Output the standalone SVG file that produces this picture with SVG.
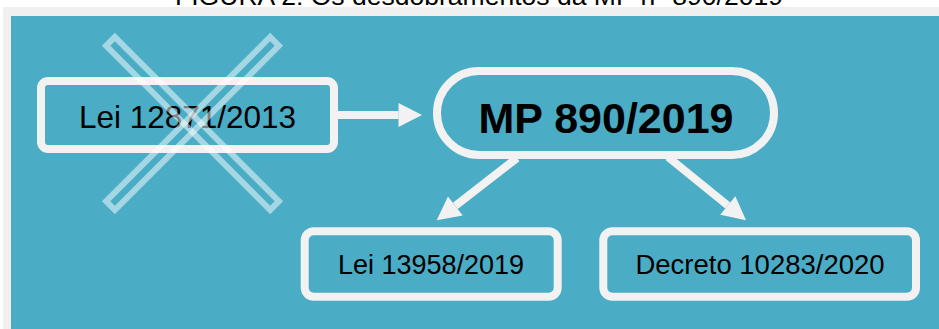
<svg xmlns="http://www.w3.org/2000/svg" width="939" height="329" viewBox="0 0 939 329">
  <style>
    .box { fill: none; stroke: #f2f2f2; stroke-width: 8; }
    .lbl { font-family: "Liberation Sans", Arial, sans-serif; fill: #000; text-anchor: middle; }
    .conn { stroke: #f2f2f2; stroke-width: 8; fill: none; }
    .bar { fill: none; stroke: #ffffff; stroke-opacity: 0.5; stroke-width: 6; }
  </style>
  <defs>
    <marker id="head" markerUnits="userSpaceOnUse" markerWidth="24" markerHeight="24" refX="0" refY="12" orient="auto" overflow="visible">
      <path d="M0,0 L23.5,12 L0,24 Z" fill="#f2f2f2"/>
    </marker>
  </defs>

  <rect x="0" y="0" width="939" height="329" fill="#ffffff"/>
  <rect x="3" y="7" width="936" height="322" fill="#f0f0f0"/>
  <rect x="11" y="16" width="928" height="313" fill="#4bacc6"/>

  <text id="title" class="lbl" x="479" y="5" font-size="26" textLength="608" lengthAdjust="spacingAndGlyphs">FIGURA 2: Os desdobramentos da MP nº 890/2019</text>

  <g id="connectors">
    <line class="conn" x1="336" y1="115" x2="398.5" y2="115" marker-end="url(#head)"/>
    <line class="conn" x1="517" y1="158" x2="455.3" y2="205.9" marker-end="url(#head)"/>
    <line class="conn" x1="668" y1="157" x2="727.8" y2="205.5" marker-end="url(#head)"/>
  </g>

  <g id="lei12871">
    <rect class="box" x="41" y="81" width="293" height="68" rx="7"/>
    <text class="lbl" x="187.5" y="127.5" font-size="31.5">Lei 12871/2013</text>
  </g>

  <g id="mp890">
    <rect class="box" x="437" y="71" width="337" height="84" rx="42"/>
    <text class="lbl" x="606" y="133" font-size="43" font-weight="bold">MP 890/2019</text>
  </g>

  <g id="lei13958">
    <rect class="box" x="304.7" y="231.3" width="253" height="65.4" rx="9"/>
    <text class="lbl" x="431" y="274" font-size="27">Lei 13958/2019</text>
  </g>

  <g id="decreto10283">
    <rect class="box" x="603.3" y="231.3" width="312.7" height="65.4" rx="9"/>
    <text class="lbl" x="760" y="274" font-size="27.5">Decreto 10283/2020</text>
  </g>

  <g id="cross">
    <rect class="bar" x="-116" y="-6.2" width="232" height="12.4" transform="translate(192.5 123.5) rotate(45)"/>
    <rect class="bar" x="-116" y="-6.2" width="232" height="12.4" transform="translate(192.5 123.5) rotate(-45)"/>
  </g>
</svg>
